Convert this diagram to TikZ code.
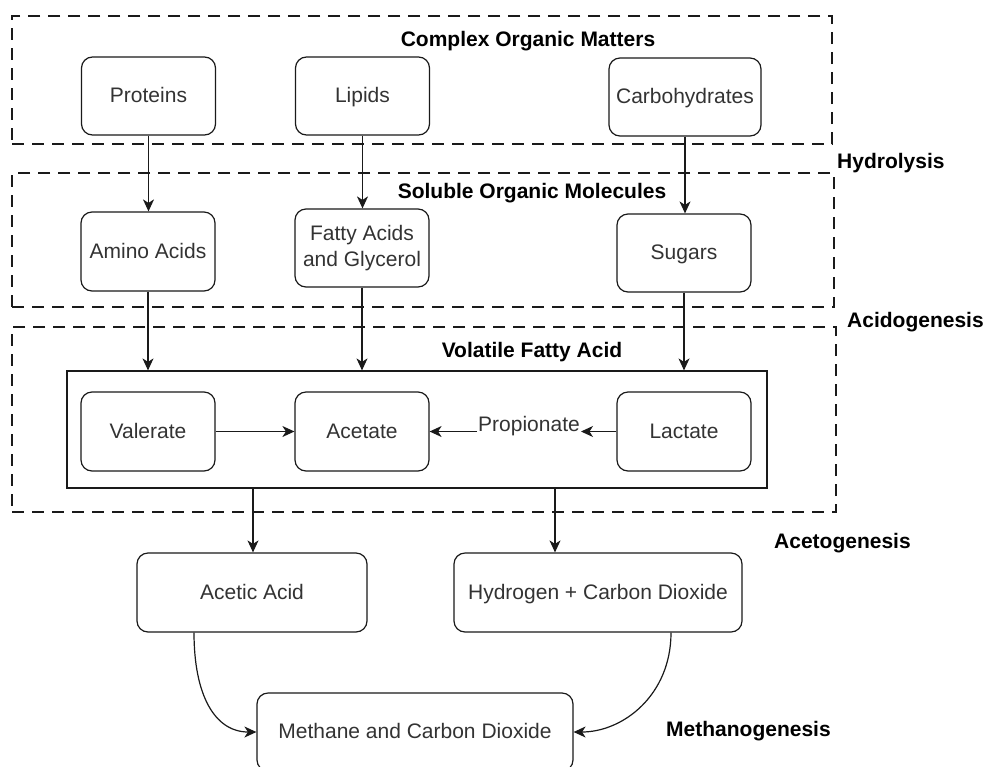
\documentclass[tikz,border=0pt]{standalone}
\usepackage{fontspec}
\setmainfont{Liberation Sans}
\usetikzlibrary{arrows.meta}
\definecolor{txt}{HTML}{333333}
\definecolor{ln}{HTML}{1A1A1A}
\begin{document}
\begin{tikzpicture}[x=1pt,y=-1pt,
  box/.style={draw=ln, line width=1.2pt, rounded corners=11pt, text=txt,
    font=\fontsize{21}{26}\selectfont, align=center, inner sep=0pt},
  one/.style={text height=16.5pt, text depth=3pt},
  grp/.style={draw=ln, line width=1.2pt, dash pattern=on 12pt off 8pt, inner sep=0pt},
  vbox/.style={draw=ln, line width=1.2pt, inner sep=0pt},
  ttl/.style={font=\fontsize{21}{26}\selectfont\bfseries, text=black, inner sep=0pt},
  lbl/.style={font=\fontsize{21}{26}\selectfont, text=txt, inner xsep=1pt, inner ysep=0pt},
  arr/.style={draw=ln, line width=1.2pt, -{Stealth[length=12pt,width=11pt,inset=3.5pt]}},
]
\useasboundingbox (0,0) rectangle (995,766);
\fill[white] (0,0) rectangle (995,766);

% group frames
\node[grp, minimum width=820pt, minimum height=128pt] (g1) at (422,80) {};
\node[grp, minimum width=822pt, minimum height=134pt] (g2) at (423,240) {};
\node[grp, minimum width=824pt, minimum height=185pt] (g3) at (424,419.5) {};
\node[vbox, minimum width=700pt, minimum height=117pt] (vfa) at (417,429.5) {};

% titles
\node[ttl] (t1) at (528,41) {Complex Organic Matters};
\node[ttl] (t2) at (532,193) {Soluble Organic Molecules};
\node[ttl] (t3) at (532,352) {Volatile Fatty Acid};

% stage labels
\node[ttl, anchor=west] (s1) at (837,163) {Hydrolysis};
\node[ttl, anchor=west] (s2) at (847,322) {Acidogenesis};
\node[ttl, anchor=west] (s3) at (774,543) {Acetogenesis};
\node[ttl, anchor=west] (s4) at (666,731) {Methanogenesis};

% nodes
\node[box, one, minimum width=134pt, minimum height=78pt] (prot) at (148.5,96) {Proteins};
\node[box, one, minimum width=134pt, minimum height=78pt] (lip) at (362.5,96) {Lipids};
\node[box, one, minimum width=152pt, minimum height=78pt] (carb) at (685,97) {Carbohydrates};

\node[box, one, minimum width=134pt, minimum height=79pt] (amino) at (148,251.5) {Amino Acids};
\node[box, minimum width=134pt, minimum height=78pt] (fatty) at (362,248) {Fatty Acids\\and Glycerol};
\node[box, one, minimum width=134pt, minimum height=78pt] (sug) at (684,253) {Sugars};

\node[box, one, minimum width=134pt, minimum height=79pt] (val) at (148,431.5) {Valerate};
\node[box, one, minimum width=134pt, minimum height=79pt] (acet) at (362,431.5) {Acetate};
\node[box, one, minimum width=134pt, minimum height=79pt] (lac) at (684,431.5) {Lactate};
\node[lbl, one] (prop) at (529,425) {Propionate};

\node[box, one, minimum width=230pt, minimum height=79pt] (acid) at (252,592.5) {Acetic Acid};
\node[box, one, minimum width=288pt, minimum height=79pt] (hyd) at (598,592.5) {Hydrogen + Carbon Dioxide};
\node[box, one, minimum width=316pt, minimum height=78pt] (meth) at (415,732) {Methane and Carbon Dioxide};

% connectors
\draw[arr] (prot.south) -- (prot.south |- amino.north);
\draw[arr] (lip.south) -- (lip.south |- fatty.north);
\draw[arr] (carb.south) -- (carb.south |- sug.north);

\draw[arr] (amino.south) -- (amino.south |- vfa.north);
\draw[arr] (fatty.south) -- (fatty.south |- vfa.north);
\draw[arr] (sug.south) -- (sug.south |- vfa.north);

\draw[arr] (val.east) -- (acet.west);
\draw[arr] (lac.west) -- (lac.west -| prop.east);
\draw[arr] (prop.west |- acet.east) -- (acet.east);

\path (acid.north) ++(1,0) coordinate (ain);
\path (hyd.north) ++(-43,0) coordinate (hin);
\draw[arr] (vfa.south -| ain) -- (ain);
\draw[arr] (vfa.south -| hin) -- (hin);

\path (acid.south) ++(-58,0) coordinate (aout);
\path (hyd.south) ++(73,0) coordinate (hout);
\draw[arr] (aout) .. controls +(0,62) and +(-42,0) .. (meth.west);
\draw[arr] (hout) .. controls +(0,62) and +(50,0) .. (meth.east);
\end{tikzpicture}
\end{document}
